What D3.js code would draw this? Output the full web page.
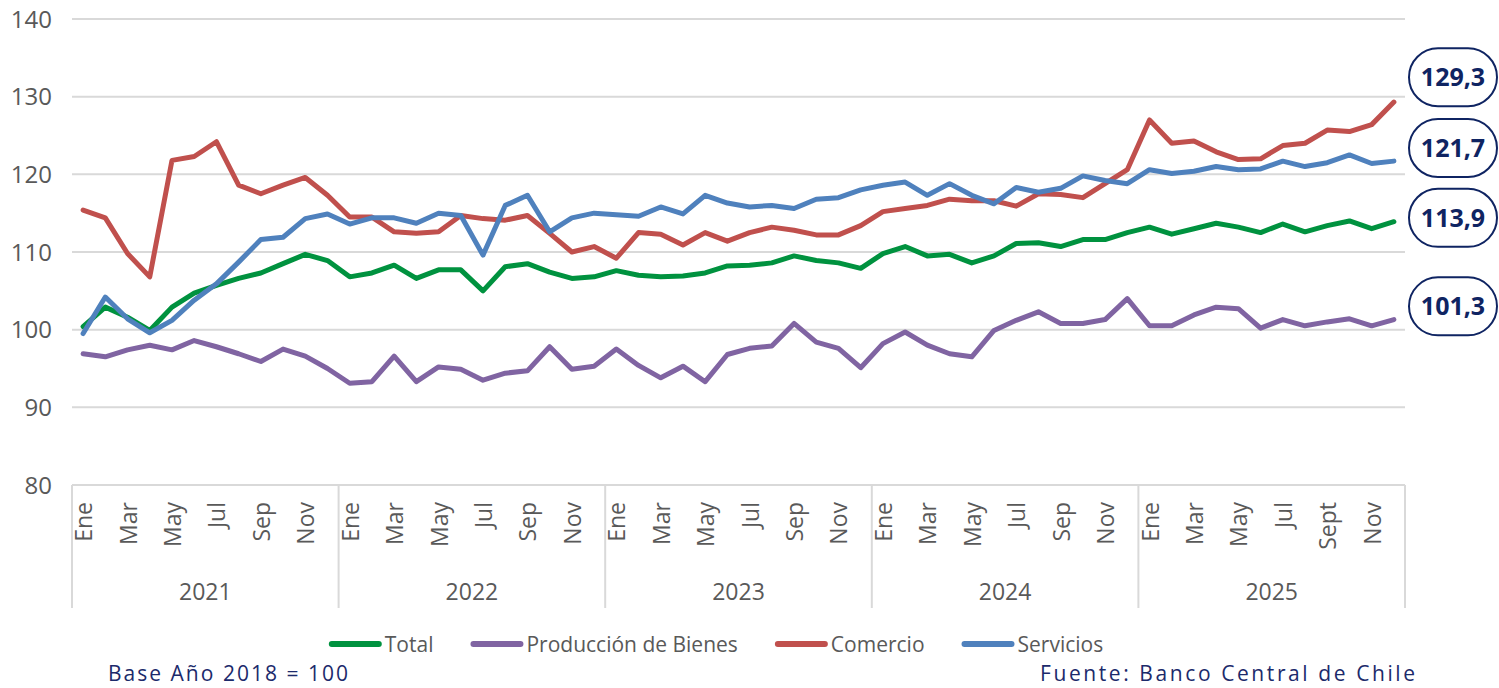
<!doctype html>
<html lang="es">
<head>
<meta charset="utf-8">
<title>Índices por sector</title>
<script src="https://d3js.org/d3.v7.min.js"></script>
<style>
  body { margin: 0; background: #fff; }
  svg { display: block; }
  text { font-family: "Open Sans", "DejaVu Sans", sans-serif; }
</style>
</head>
<body>
<script>
// chart data
var years = ["2021", "2022", "2023", "2024", "2025"];
var monthLabels = ["Ene", "", "Mar", "", "May", "", "Jul", "", "Sep", "", "Nov", ""];
var monthLabels2025 = ["Ene", "", "Mar", "", "May", "", "Jul", "", "Sept", "", "Nov", ""];
var yTicks = [80, 90, 100, 110, 120, 130, 140];

var total = [100.4, 102.9, 101.6, 99.9, 102.9, 104.7, 105.7, 106.6, 107.3, 108.5, 109.7, 108.9,
  106.8, 107.3, 108.3, 106.6, 107.7, 107.7, 105.0, 108.1, 108.5, 107.4, 106.6, 106.8,
  107.6, 107.0, 106.8, 106.9, 107.3, 108.2, 108.3, 108.6, 109.5, 108.9, 108.6, 107.9,
  109.8, 110.7, 109.5, 109.7, 108.6, 109.5, 111.1, 111.2, 110.7, 111.6, 111.6, 112.5,
  113.2, 112.3, 113.0, 113.7, 113.2, 112.5, 113.6, 112.6, 113.4, 114.0, 113.0, 113.9];

var produccion = [96.9, 96.5, 97.4, 98.0, 97.4, 98.6, 97.8, 96.9, 95.9, 97.5, 96.6, 95.0,
  93.1, 93.3, 96.6, 93.3, 95.2, 94.9, 93.5, 94.4, 94.7, 97.8, 94.9, 95.3,
  97.5, 95.4, 93.8, 95.3, 93.3, 96.8, 97.6, 97.9, 100.8, 98.4, 97.6, 95.1,
  98.2, 99.7, 98.0, 96.9, 96.5, 99.9, 101.2, 102.3, 100.8, 100.8, 101.3, 104.0,
  100.5, 100.5, 101.9, 102.9, 102.7, 100.2, 101.3, 100.5, 101.0, 101.4, 100.5, 101.3];

var comercio = [115.4, 114.4, 109.8, 106.8, 121.8, 122.3, 124.2, 118.6, 117.5, 118.6, 119.6, 117.3,
  114.5, 114.5, 112.6, 112.4, 112.6, 114.7, 114.3, 114.1, 114.7, 112.4, 110.0, 110.7,
  109.2, 112.5, 112.3, 110.9, 112.5, 111.4, 112.5, 113.2, 112.8, 112.2, 112.2, 113.4,
  115.2, 115.6, 116.0, 116.8, 116.6, 116.6, 115.9, 117.5, 117.4, 117.0, 118.8, 120.6,
  127.0, 124.0, 124.3, 122.9, 121.9, 122.0, 123.7, 124.0, 125.7, 125.5, 126.4, 129.3];

var servicios = [99.5, 104.2, 101.4, 99.6, 101.2, 103.8, 105.9, 108.7, 111.6, 111.9, 114.3, 114.9,
  113.6, 114.4, 114.4, 113.7, 115.0, 114.7, 109.6, 116.0, 117.3, 112.6, 114.4, 115.0,
  114.8, 114.6, 115.8, 114.9, 117.3, 116.3, 115.8, 116.0, 115.6, 116.8, 117.0, 118.0,
  118.6, 119.0, 117.3, 118.8, 117.3, 116.2, 118.3, 117.7, 118.2, 119.8, 119.2, 118.8,
  120.6, 120.1, 120.4, 121.0, 120.6, 120.7, 121.7, 121.0, 121.5, 122.5, 121.4, 121.7];

var seriesNames = ["Total", "Producción de Bienes", "Comercio", "Servicios"];
var seriesColors = ["#00923f", "#8064a2", "#c0504d", "#4f81bd"];

// last-value call-outs: text and the value level where each box sits
var calloutText = ["129,3", "121,7", "113,9", "101,3"];
var calloutLevel = [132.5, 123.4, 114.4, 103.0];

var width = 1499,
    height = 688;
// plot box ("top" is taken by window.top, so use a prefix)
var plotL = 72, plotR = 1405, plotT = 19, plotB = 485;

var svg = d3.select("body").append("svg")
  .attr("width", width)
  .attr("height", height);

var n = total.length;
var x = d3.scaleBand().domain(d3.range(n)).range([plotL, plotR]).padding(0);
var bw = x.bandwidth();
var y = d3.scaleLinear().domain([80, 140]).range([plotB, plotT]);

// gridlines + y labels
svg.append("g").selectAll("line")
  .data(yTicks.filter(function (d) { return d > 80; }))
  .enter().append("line")
  .attr("x1", plotL).attr("x2", plotR)
  .attr("y1", function (d) { return y(d); })
  .attr("y2", function (d) { return y(d); })
  .attr("stroke", "#d9d9d9")
  .attr("stroke-width", 2);

svg.append("g").selectAll("text")
  .data(yTicks)
  .enter().append("text")
  .attr("x", 52)
  .attr("y", function (d) { return y(d); })
  .attr("dy", "0.36em")
  .attr("text-anchor", "end")
  .attr("fill", "#595959")
  .attr("font-size", 24)
  .text(function (d) { return d; });

// category axis: baseline, year separators, month + year labels
var axis = svg.append("g");
axis.append("line")
  .attr("x1", plotL).attr("x2", plotR)
  .attr("y1", plotB).attr("y2", plotB)
  .attr("stroke", "#d9d9d9").attr("stroke-width", 2);

var sepIdx = d3.range(0, n + 1, 12);
axis.selectAll("line.sep")
  .data(sepIdx)
  .enter().append("line")
  .attr("class", "sep")
  .attr("x1", function (d) { return d < n ? x(d) : plotR; })
  .attr("x2", function (d) { return d < n ? x(d) : plotR; })
  .attr("y1", plotB).attr("y2", 608)
  .attr("stroke", "#d9d9d9").attr("stroke-width", 2);

var monthData = [];
years.forEach(function (yr, yi) {
  var labs = yr === "2025" ? monthLabels2025 : monthLabels;
  labs.forEach(function (m, mi) {
    if (m) monthData.push({ i: yi * 12 + mi, label: m });
  });
});

axis.selectAll("text.month")
  .data(monthData)
  .enter().append("text")
  .attr("class", "month")
  .attr("transform", function (d) {
    return "translate(" + (x(d.i) + bw / 2 + 9) + ",502) rotate(-90)";
  })
  .attr("text-anchor", "end")
  .attr("fill", "#595959")
  .attr("font-size", 23)
  .text(function (d) { return d.label; });

axis.selectAll("text.year")
  .data(years)
  .enter().append("text")
  .attr("class", "year")
  .attr("x", function (d, i) { return (x(i * 12) + x(i * 12 + 11) + bw) / 2; })
  .attr("y", 600)
  .attr("text-anchor", "middle")
  .attr("fill", "#595959")
  .attr("font-size", 23)
  .text(function (d) { return d; });

// the four series
var allSeries = [total, produccion, comercio, servicios];
var line = d3.line()
  .x(function (d, i) { return x(i) + bw / 2; })
  .y(function (d) { return y(d); });

svg.append("g").selectAll("path")
  .data(allSeries)
  .enter().append("path")
  .attr("d", line)
  .attr("fill", "none")
  .attr("stroke", function (d, i) { return seriesColors[i]; })
  .attr("stroke-width", 5)
  .attr("stroke-linejoin", "round")
  .attr("stroke-linecap", "round");

// legend
var legend = svg.append("g");
var lx = 0;
seriesNames.forEach(function (name, i) {
  var item = legend.append("g").attr("transform", "translate(" + lx + ",0)");
  item.append("line")
    .attr("x1", 3).attr("x2", 50)
    .attr("y1", 0).attr("y2", 0)
    .attr("stroke", seriesColors[i])
    .attr("stroke-width", 6)
    .attr("stroke-linecap", "round");
  var t = item.append("text")
    .attr("x", 56).attr("dy", "0.36em")
    .attr("fill", "#595959")
    .attr("font-size", 21)
    .text(name);
  lx += 56 + t.node().getComputedTextLength() + 37;
});
legend.attr("transform", "translate(" + (716 - (lx - 37) / 2) + ",644)");

// notes
svg.append("text")
  .attr("x", 108).attr("y", 681)
  .attr("fill", "#1c2a6b")
  .attr("font-size", 21)
  .attr("textLength", 240)
  .attr("lengthAdjust", "spacing")
  .text("Base Año 2018 = 100");

svg.append("text")
  .attr("x", 1040).attr("y", 681)
  .attr("fill", "#1c2a6b")
  .attr("font-size", 21)
  .attr("textLength", 375)
  .attr("lengthAdjust", "spacing")
  .text("Fuente: Banco Central de Chile");

// value call-outs
var boxes = svg.append("g").selectAll("g")
  .data(calloutText)
  .enter().append("g")
  .attr("transform", function (d, i) { return "translate(1453," + y(calloutLevel[i]) + ")"; });

boxes.append("rect")
  .attr("x", -44).attr("y", -29)
  .attr("width", 88).attr("height", 58)
  .attr("rx", 29).attr("ry", 29)
  .attr("fill", "#fff")
  .attr("stroke", "#0f2462")
  .attr("stroke-width", 2);

boxes.append("text")
  .attr("text-anchor", "middle")
  .attr("dy", "0.36em")
  .attr("fill", "#0f2462")
  .attr("font-size", 25)
  .attr("font-weight", 700)
  .text(function (d) { return d; });
</script>
</body>
</html>
